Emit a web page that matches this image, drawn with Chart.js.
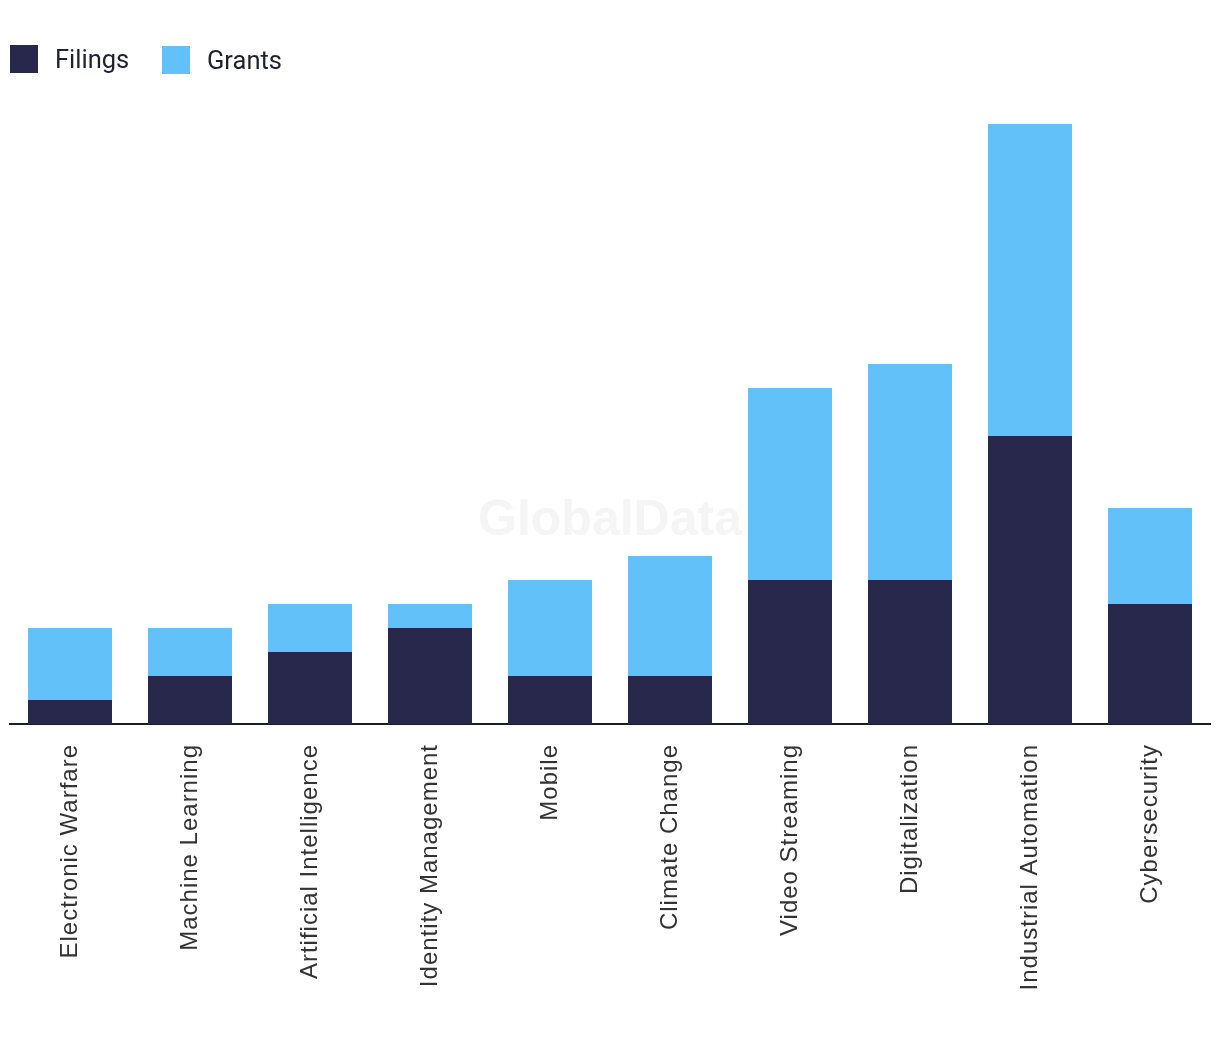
<!DOCTYPE html>
<html>
<head>
<meta charset="utf-8">
<script src="https://cdn.jsdelivr.net/npm/chart.js@4.4.1/dist/chart.umd.min.js"></script>
<style>
html,body{margin:0;padding:0;background:#fff;}
#wrap{position:relative;width:1220px;height:1042px;}
#legend{position:absolute;left:10px;top:45px;height:28px;display:flex;align-items:center;font-family:Roboto,"Noto Sans",sans-serif;font-size:25.5px;color:#1f2133;}
.item{display:flex;align-items:center;}
.box{width:28px;height:28px;margin-right:17px;flex:none;}
</style>
</head>
<body>
<div id="wrap">
<canvas id="c" width="1220" height="1042"></canvas>
<div id="legend"></div>
</div>
<script>
const categories = ["Electronic Warfare","Machine Learning","Artificial Intelligence","Identity Management","Mobile","Climate Change","Video Streaming","Digitalization","Industrial Automation","Cybersecurity"];
const filings = [1,2,3,4,2,2,6,6,12,5];
const grants = [3,2,2,1,4,5,8,9,13,4];
const seriesNames = ["Filings","Grants"];
const colors = ["#27284b","#62c1f9"];

const legend = document.getElementById('legend');
seriesNames.forEach((n,i)=>{
  const it = document.createElement('div'); it.className='item';
  if (i>0) { it.style.position='absolute'; it.style.left='152px'; it.style.top='0'; }
  const b = document.createElement('div'); b.className='box'; b.style.background=colors[i];
  const t = document.createElement('span'); t.textContent=n;
  it.appendChild(b); it.appendChild(t); legend.appendChild(it);
});

const spacing = {
  id:'spacing',
  beforeDraw(chart){ chart.ctx.letterSpacing = '1px'; }
};
const watermark = {
  id:'watermark',
  beforeDatasetsDraw(chart){
    const ctx = chart.ctx; ctx.save();
    ctx.letterSpacing = '0px';
    ctx.font = 'bold 50px "Liberation Sans", Arial, sans-serif';
    ctx.fillStyle = '#f5f5f5';
    ctx.textAlign = 'center'; ctx.textBaseline='middle';
    ctx.fillText('GlobalData', 610, 521);
    ctx.restore();
  }
};

new Chart(document.getElementById('c'), {
  type:'bar',
  data:{
    labels:categories,
    datasets:[
      {label:seriesNames[0], data:filings, backgroundColor:colors[0], barPercentage:0.7, categoryPercentage:1},
      {label:seriesNames[1], data:grants, backgroundColor:colors[1], barPercentage:0.7, categoryPercentage:1}
    ]
  },
  options:{
    responsive:false, animation:false,
    layout:{padding:{top:100,left:10,right:10,bottom:0}},
    plugins:{legend:{display:false}, tooltip:{enabled:false}},
    scales:{
      x:{stacked:true,
        grid:{display:false},
        border:{color:'#1a1b2e',width:2},
        ticks:{minRotation:90,maxRotation:90,padding:12,color:'#333',font:{family:'"Liberation Sans", Arial, sans-serif',size:24}},
        afterFit(s){ s.height = 318; }
      },
      y:{stacked:true, display:false, min:0, max:26}
    }
  },
  plugins:[spacing, watermark]
});
</script>
</body>
</html>
